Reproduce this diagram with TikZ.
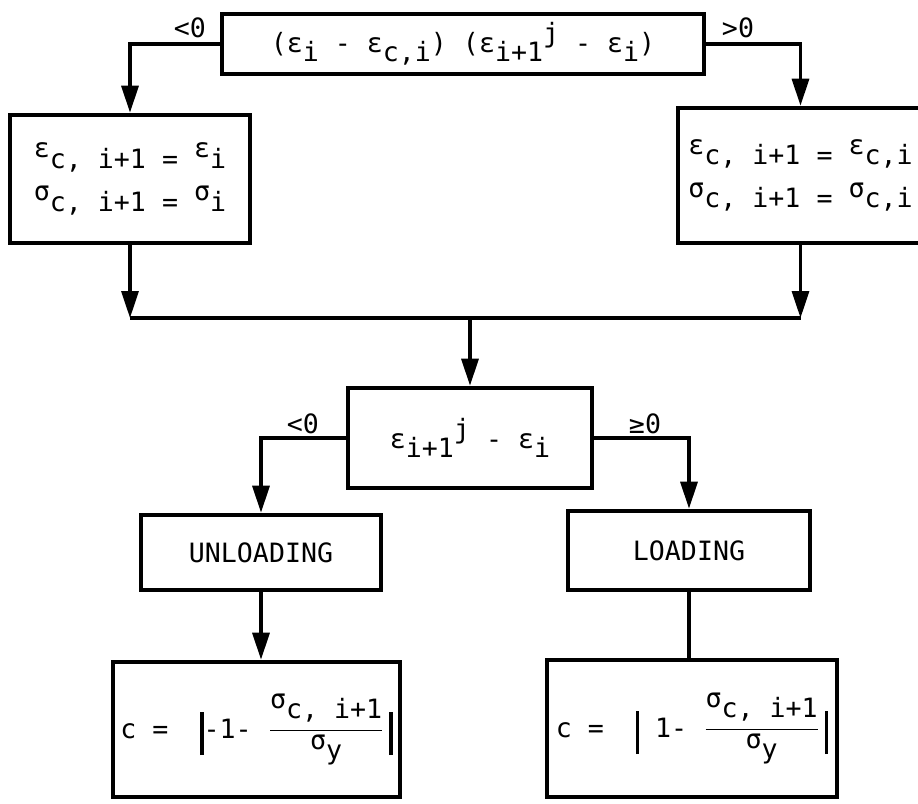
\documentclass[tikz,border=0pt]{standalone}
\usepackage{amsmath}
\usepackage{fontspec}
\setmonofont{DejaVu Sans Mono}
\usetikzlibrary{arrows.meta}

\newcommand{\dn}[1]{\raisebox{-0.6ex}{#1}}
\newcommand{\up}[1]{\raisebox{0.7ex}{#1}}
\newcommand{\tegak}{\vrule height 13pt depth 8.5pt width 1.6pt}

\begin{document}
\begin{tikzpicture}[x=0.5pt,y=-0.5pt,
  kotak/.style={draw,line width=2.3pt,inner sep=0pt,align=center},
  garis/.style={line width=1.6pt},
  panah/.style={garis,-{Triangle[length=13.5pt,width=8.5pt]}},
  font=\ttfamily\fontsize{13.3}{21.5}\selectfont]
\useasboundingbox (0,0) rectangle (918,804);
% kotak-kotak
\node[kotak,minimum width=241pt,minimum height=30pt] (top) at (463,44)
  {(ε\dn{i} - ε\dn{c,i}) (ε\dn{i+1}\up{j} - ε\dn{i})};
\node[kotak,minimum width=120pt,minimum height=64pt] (kiri) at (130,179)
  {\up{ε}c, i+1 = \up{ε}i\\ \up{σ}c, i+1 = \up{σ}i};
\node[kotak,minimum width=122.5pt,minimum height=67.5pt] (kanan) at (800.5,175.5)
  {\up{ε}c, i+1 = \up{ε}c,i\\ \up{σ}c, i+1 = \up{σ}c,i};
\node[kotak,minimum width=122pt,minimum height=50pt] (mid) at (470,438)
  {ε\dn{i+1}\up{j} - ε\dn{i}};
\node[kotak,minimum width=120pt,minimum height=37.5pt] (unl) at (261,552.5) {UNLOADING};
\node[kotak,minimum width=121pt,minimum height=39.5pt] (lod) at (689,550.5) {LOADING};
\node[kotak,minimum width=143.5pt,minimum height=67.5pt] (has1) at (256.5,729.5)
  {$\text{c =~~}\tegak\text{-1-~}\dfrac{\text{\up{σ}c, i+1}}{\text{\up{σ}y}}\,\tegak$};
\node[kotak,minimum width=145pt,minimum height=68.5pt] (has2) at (692,728.5)
  {$\text{c =~~}\tegak\text{~1-~}\dfrac{\text{\up{σ}c, i+1}}{\text{\up{σ}y}}\,\tegak$};
% tanda
\node (lt1) at (190,28) {<0};
\node (lt2) at (738,28) {>0};
\node (lt3) at (303,424) {<0};
\node (lt4) at (645,424) {≥0};
\coordinate (gab) at (468,318);
% garis
\draw[panah] (top.west) -| (kiri.north);
\draw[panah] (top.east) -| (kanan.north);
\draw[panah] (kiri.south) -- (kiri.south |- gab);
\draw[panah] (kanan.south) -- (kanan.south |- gab);
\draw[garis] (kiri.south |- gab) -- (kanan.south |- gab);
\draw[panah] (mid.north |- gab) -- (mid.north);
\draw[panah] (mid.west) -| (unl.north);
\draw[panah] (mid.east) -| (lod.north);
\draw[panah] (unl.south) -- (unl.south |- has1.north);
\draw[garis] (lod.south) -- (lod.south |- has2.north);
\end{tikzpicture}
\end{document}
